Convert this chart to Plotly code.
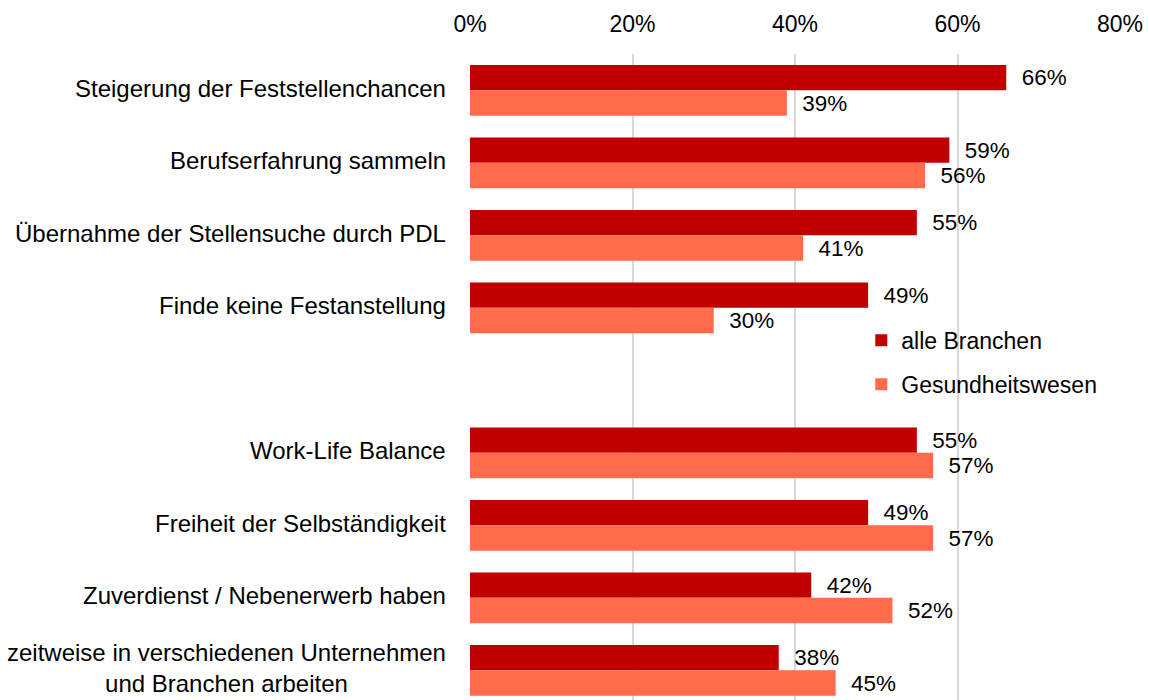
import plotly.graph_objects as go

categories = [
    "Steigerung der Feststellenchancen",
    "Berufserfahrung sammeln",
    "Übernahme der Stellensuche durch PDL",
    "Finde keine Festanstellung",
    " ",
    "Work-Life Balance",
    "Freiheit der Selbständigkeit",
    "Zuverdienst / Nebenerwerb haben",
    "zeitweise in verschiedenen Unternehmen<br>und Branchen arbeiten",
]
alle_branchen = [66, 59, 55, 49, None, 55, 49, 42, 38]
gesundheitswesen = [39, 56, 41, 30, None, 57, 57, 52, 45]
series_names = ["alle Branchen", "Gesundheitswesen"]
tick_vals = [0, 20, 40, 60, 80]
tick_text = ["0%", "20%", "40%", "60%", "80%"]

FONT = "Liberation Sans, Arial, sans-serif"
FS = 23
FS_CAT = 24
DARK = "#C00000"
LIGHT = "#FF6B4B"

def labels(vals):
    return ["" if v is None else "\u00a0\u00a0" + f"{v}%" for v in vals]

fig = go.Figure()
fig.add_trace(go.Bar(
    y=categories, x=alle_branchen, orientation="h", name=series_names[0],
    marker=dict(color=DARK, line=dict(width=0)),
    text=labels(alle_branchen), textposition="outside", cliponaxis=False,
    textfont=dict(family=FONT, size=FS, color="black"),
    legendgroup="a",
))
fig.add_trace(go.Bar(
    y=categories, x=gesundheitswesen, orientation="h", name=series_names[1],
    marker=dict(color=LIGHT, line=dict(width=0)),
    text=labels(gesundheitswesen), textposition="outside", cliponaxis=False,
    textfont=dict(family=FONT, size=FS, color="black"),
    legendgroup="b",
))

for c in categories:
    if not c.strip():
        continue
    fig.add_annotation(
        x=0, xref="paper", y=c, yref="y", text=c, showarrow=False,
        xanchor="right", xshift=-22, yshift=2, align="center",
        font=dict(family=FONT, size=FS_CAT, color="black"),
    )

fig.update_layout(
    width=1149, height=700,
    margin=dict(l=470, r=29, t=54, b=0),
    paper_bgcolor="white", plot_bgcolor="white",
    barmode="group", bargap=0.3, bargroupgap=0,
    font=dict(family=FONT, size=FS, color="black"),
    showlegend=True,
    legend=dict(
        x=0.602, y=0.59, xanchor="left", yanchor="top",
        font=dict(family=FONT, size=FS, color="black"),
        bgcolor="rgba(0,0,0,0)", traceorder="grouped", tracegroupgap=11,
        itemwidth=30,
    ),
)
fig.update_xaxes(
    side="top", range=[0, 80], tickvals=tick_vals, ticktext=tick_text,
    showgrid=True, gridcolor="#D9D9D9", gridwidth=2,
    zeroline=False, showline=False, ticks="", ticklabelstandoff=16,
    tickfont=dict(family=FONT, size=FS, color="black"),
)
fig.update_yaxes(
    categoryorder="array", categoryarray=categories,
    range=[8.41, -0.5], showticklabels=False, showgrid=False,
    zeroline=False, showline=False, ticks="",
)

fig.write_html("out.html")
